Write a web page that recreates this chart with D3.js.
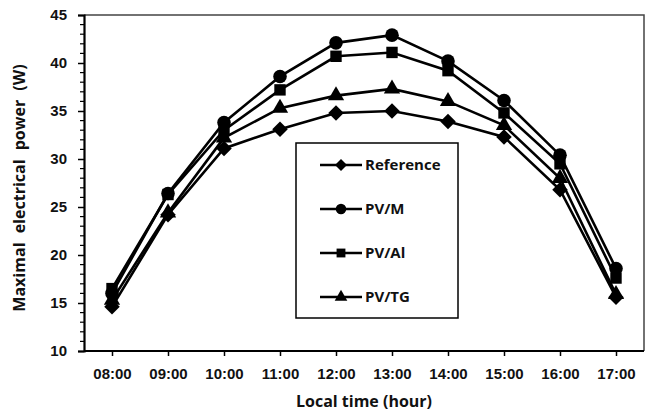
<!DOCTYPE html>
<html lang="en">
<head>
  <meta charset="UTF-8">
  <title>Maximal electrical power</title>
  <script src="https://d3js.org/d3.v7.min.js"></script>
  <style>
    html, body {
      margin: 0;
      padding: 0;
      background: white;
      overflow: hidden;
    }
    svg {
      display: block;
      font-family: "Open Sans", Lato, sans-serif;
      font-weight: bold;
    }
  </style>
</head>
<body>
<svg width="649" height="416"></svg>

<script>
const times = ["08:00", "09:00", "10:00", "11:00", "12:00", "13:00", "14:00", "15:00", "16:00", "17:00"];
const reference = [14.6, 24.2, 31.1, 33.1, 34.8, 35.0, 33.9, 32.3, 26.8, 15.6];
const pvM = [16.0, 26.4, 33.8, 38.6, 42.1, 42.9, 40.2, 36.1, 30.4, 18.6];
const pvAl = [16.5, 26.3, 33.0, 37.2, 40.7, 41.1, 39.2, 34.8, 29.5, 17.6];
const pvTG = [15.3, 24.4, 32.2, 35.3, 36.6, 37.3, 36.0, 33.5, 28.0, 15.9];
const yTicks = [10, 15, 20, 25, 30, 35, 40, 45];

// square diamond (rotated square), d3's own diamond is too tall
const squareDiamond = {
  draw(ctx, size) {
    const r = Math.sqrt(size / 2);
    ctx.moveTo(0, -r);
    ctx.lineTo(r, 0);
    ctx.lineTo(0, r);
    ctx.lineTo(-r, 0);
    ctx.closePath();
  }
};

const series = [
  { name: "Reference", values: reference, symbol: squareDiamond, size: 120 },
  { name: "PV/M", values: pvM, symbol: d3.symbolCircle, size: 145 },
  { name: "PV/Al", values: pvAl, symbol: d3.symbolSquare, size: 130 },
  { name: "PV/TG", values: pvTG, symbol: d3.symbolTriangle, size: 115 }
];

const plotL = 84, plotR = 644, plotT = 15, plotB = 351;
const svg = d3.select("svg");

const x = d3.scalePoint().domain(times).range([plotL, plotR]).padding(0.5);
const y = d3.scaleLinear().domain([10, 45]).range([plotB, plotT]);

// frame (top + right)
svg.append("path")
  .attr("d", `M${plotL},${plotT}H${plotR}V${plotB}`)
  .attr("fill", "none")
  .attr("stroke", "#444")
  .attr("stroke-width", 1.5);

// minor y ticks
svg.append("g")
  .selectAll("line")
  .data(d3.range(10, 46, 1).filter(v => v % 5 !== 0))
  .join("line")
  .attr("x1", plotL - 4).attr("x2", plotL)
  .attr("y1", d => y(d)).attr("y2", d => y(d))
  .attr("stroke", "black").attr("stroke-width", 1.2);

// y axis
const yAxis = svg.append("g")
  .attr("transform", `translate(${plotL},0)`)
  .call(d3.axisLeft(y).tickValues(yTicks).tickSize(6).tickPadding(11));
yAxis.select(".domain").attr("stroke-width", 2.2);
yAxis.selectAll(".tick line").attr("stroke-width", 1.5);
yAxis.selectAll("text").attr("font-size", 15).attr("font-family", null).attr("fill", "#111");

// x axis
const xAxis = svg.append("g")
  .attr("transform", `translate(0,${plotB})`)
  .call(d3.axisBottom(x).tickSize(5).tickPadding(12).tickSizeOuter(0));
xAxis.select(".domain").attr("d", `M${plotL},0H${plotR}`).attr("stroke-width", 2.2);
xAxis.selectAll(".tick line").attr("stroke-width", 1.5);
xAxis.selectAll("text").attr("font-size", 15).attr("font-family", null).attr("fill", "#111");

// axis titles
svg.append("text")
  .attr("x", 364)
  .attr("y", 407)
  .attr("text-anchor", "middle")
  .attr("font-size", 16)
  .attr("fill", "#111")
  .text("Local time (hour)");

svg.append("text")
  .attr("transform", "translate(25,188) rotate(-90)")
  .attr("text-anchor", "middle")
  .attr("font-size", 16)
  .attr("word-spacing", 5)
  .attr("fill", "#111")
  .text("Maximal electrical power (W)");

// lines + markers, series by series
const line = d3.line()
  .x((d, i) => x(times[i]))
  .y(d => y(d));

series.forEach(s => {
  svg.append("path")
    .datum(s.values)
    .attr("d", line)
    .attr("fill", "none")
    .attr("stroke", "black")
    .attr("stroke-width", 2.6);

  svg.append("g")
    .selectAll("path")
    .data(s.values)
    .join("path")
    .attr("transform", (d, i) => `translate(${x(times[i])},${y(d)})`)
    .attr("d", d3.symbol(s.symbol, s.size))
    .attr("fill", "black");
});

// legend
const legend = svg.append("g");
legend.append("rect")
  .attr("x", 296).attr("y", 143)
  .attr("width", 162).attr("height", 175)
  .attr("fill", "white")
  .attr("stroke", "black")
  .attr("stroke-width", 1.5);

const ly = d3.scalePoint().domain(series.map(s => s.name)).range([165, 297]);
series.forEach(s => {
  const g = legend.append("g").attr("transform", `translate(0,${ly(s.name)})`);
  g.append("line")
    .attr("x1", 320).attr("x2", 362)
    .attr("stroke", "black").attr("stroke-width", 2.6);
  g.append("path")
    .attr("transform", "translate(341,0)")
    .attr("d", d3.symbol(s.symbol, s.size * 0.6))
    .attr("fill", "black");
  g.append("text")
    .attr("x", 365).attr("dy", "0.35em")
    .attr("font-size", 15)
    .attr("fill", "#111")
    .text(s.name);
});
</script>
</body>
</html>
